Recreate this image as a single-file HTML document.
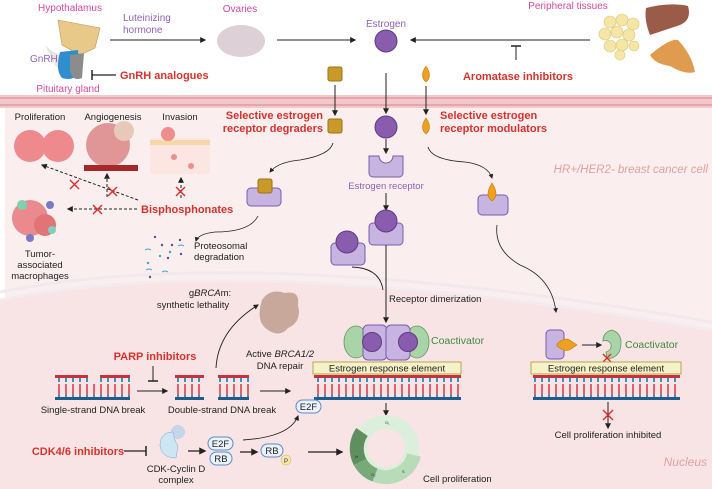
<!DOCTYPE html>
<html><head><meta charset="utf-8"><style>
body{margin:0;background:#fff}
svg{display:block;font-family:"Liberation Sans",sans-serif}
.r{fill:#d8322c;font-weight:bold;font-size:11px}
.k{fill:#222;font-size:9.5px}
.p{fill:#d548a0;font-size:10px}
.v{fill:#8e62b8;font-size:10px}
.g{fill:#3f8a3f;font-size:10.5px}
</style></head><body>
<svg width="712" height="489" viewBox="0 0 712 489" xmlns="http://www.w3.org/2000/svg">
<defs>
<marker id="a" viewBox="0 0 10 10" refX="8" refY="5" markerWidth="6" markerHeight="6" orient="auto"><path d="M0,0L10,5L0,10z" fill="#222"/></marker>
<pattern id="dna" x="0" y="0" width="7" height="24" patternUnits="userSpaceOnUse">
<rect x="2" y="0" width="2" height="11" fill="#e0616a"/><rect x="2" y="11" width="2" height="11" fill="#2e96c2"/></pattern>
</defs>
<!-- cell -->
<rect x="5" y="107" width="707" height="382" fill="#fbeeee"/>
<path d="M0,300 Q250,250 712,330 L712,489 L0,489z" fill="#f8e4e5"/>
<path d="M0,292 Q250,242 712,322" fill="none" stroke="#f0eaec" stroke-width="3"/>
<path d="M0,300 Q250,250 712,330" fill="none" stroke="#f2ecee" stroke-width="3"/>
<rect x="0" y="95" width="712" height="13" fill="#f2c8cb"/>
<rect x="0" y="97" width="712" height="2" fill="#e3a6ab"/>
<rect x="0" y="104" width="712" height="2" fill="#e3a6ab"/>

<!-- top -->
<text x="70" y="11" class="p" text-anchor="middle">Hypothalamus</text>
<path d="M58,20 L100,28 L95,48 L80,55 L62,45z" fill="#e9c98a" stroke="#b99a5a" stroke-width="0.6"/>
<path d="M45,45 Q60,60 70,52 L78,55 L75,65 Q60,72 55,65z" fill="#e5e5e8"/>
<path d="M60,52 Q55,70 62,78 Q75,82 80,70 L78,50z" fill="#2f8dd0"/>
<path d="M70,55 L84,53 L82,78 Q72,82 70,70z" fill="#8c8c8c"/>
<text x="30" y="62" class="v">GnRH</text>
<text x="68" y="92" class="p" text-anchor="middle">Pituitary gland</text>
<line x1="92" y1="75" x2="116" y2="75" stroke="#222" stroke-width="1.2"/><line x1="92" y1="70" x2="92" y2="80" stroke="#222" stroke-width="1.5"/>
<text x="120" y="79" class="r">GnRH analogues</text>
<text x="123" y="21" class="v">Luteinizing</text><text x="123" y="33" class="v">hormone</text>
<line x1="110" y1="40" x2="205" y2="40" stroke="#222" marker-end="url(#a)"/>
<text x="240" y="12" class="p" text-anchor="middle">Ovaries</text>
<ellipse cx="241" cy="41" rx="24" ry="16" fill="#ddd0d6"/>
<line x1="277" y1="40" x2="355" y2="40" stroke="#222" marker-end="url(#a)"/>
<text x="386" y="27" class="v" text-anchor="middle">Estrogen</text>
<circle cx="386" cy="41" r="11" fill="#8a5cad" stroke="#5e3b82"/>
<line x1="590" y1="40" x2="411" y2="40" stroke="#222" marker-end="url(#a)"/>
<line x1="516" y1="46" x2="516" y2="60" stroke="#222"/><line x1="511" y1="46" x2="521" y2="46" stroke="#222" stroke-width="1.5"/>
<text x="518" y="80" class="r" text-anchor="middle">Aromatase inhibitors</text>
<text x="568" y="9" class="p" text-anchor="middle">Peripheral tissues</text>
<g fill="#f5e6a6" stroke="#d9c67a" stroke-width="0.6">
<circle cx="610" cy="22" r="6"/><circle cx="622" cy="20" r="6"/><circle cx="633" cy="24" r="6"/><circle cx="605" cy="34" r="6"/><circle cx="617" cy="32" r="6"/><circle cx="629" cy="35" r="6"/><circle cx="610" cy="46" r="6"/><circle cx="622" cy="45" r="6"/><circle cx="634" cy="46" r="5"/><circle cx="620" cy="55" r="5"/></g>
<path d="M646,8 Q670,2 688,6 Q692,20 680,25 Q665,30 650,35 Q644,20 646,8z" fill="#9a5c48"/>
<path d="M650,55 Q670,38 678,40 Q692,55 695,72 Q685,75 670,66 Q655,64 650,55z" fill="#e09b4f"/>

<!-- SERD -->
<rect x="328" y="67" width="14" height="14" rx="2" fill="#c99a2a" stroke="#9a7418"/>
<line x1="335" y1="85" x2="335" y2="115" stroke="#222" marker-end="url(#a)"/>
<rect x="328" y="119" width="14" height="14" rx="2" fill="#c99a2a" stroke="#9a7418"/>
<text x="323" y="119" class="r" text-anchor="end">Selective estrogen</text>
<text x="323" y="132" class="r" text-anchor="end">receptor degraders</text>
<path d="M333,143 Q330,155 300,160 Q278,162 270,172" fill="none" stroke="#222" stroke-width="0.8" marker-end="url(#a)"/>
<rect x="247" y="188" width="34" height="18" rx="4" fill="#c8b4e0" stroke="#7b5ab0"/>
<rect x="258" y="179" width="14" height="14" rx="2" fill="#c99a2a" stroke="#9a7418"/>
<path d="M258,216 Q250,232 215,232 Q198,234 196,241" fill="none" stroke="#222" stroke-width="0.8" marker-end="url(#a)"/>
<g fill="#5a4a9a"><circle cx="155" cy="237" r="1.2"/><circle cx="162" cy="245" r="1.2"/><circle cx="172" cy="245" r="1.2"/><circle cx="180" cy="240" r="1.2"/><circle cx="168" cy="258" r="1.2"/><circle cx="150" cy="277" r="1.2"/><circle cx="181" cy="254" r="1.2"/></g>
<g fill="#3aa8b5"><circle cx="160" cy="256" r="1.2"/><circle cx="170" cy="252" r="1.2"/><circle cx="148" cy="263" r="1.2"/></g>
<g stroke="#3aa8d0" fill="none"><path d="M145,250 q3,-2 6,0"/><path d="M178,246 q3,-2 6,0"/><path d="M146,270 q3,-2 6,0"/><path d="M162,272 q3,-2 6,0"/></g>
<text x="194" y="249" class="k">Proteosomal</text><text x="194" y="260" class="k">degradation</text>

<!-- estrogen column -->
<line x1="386" y1="73" x2="386" y2="113" stroke="#222" marker-end="url(#a)"/>
<circle cx="386" cy="127" r="11" fill="#8a5cad" stroke="#5e3b82"/>
<line x1="386" y1="139" x2="386" y2="153" stroke="#222" marker-end="url(#a)"/>
<path d="M369,156 h10 a7,7 0 0 0 14,0 h10 v17 a4,4 0 0 1 -4,4 h-26 a4,4 0 0 1 -4,-4z" fill="#c8b4e0" stroke="#7b5ab0"/>
<text x="386" y="189" class="v" text-anchor="middle" style="font-size:9.5px">Estrogen receptor</text>
<line x1="386" y1="193" x2="386" y2="210" stroke="#222" marker-end="url(#a)"/>
<rect x="369" y="223" width="34" height="22" rx="4" fill="#c8b4e0" stroke="#7b5ab0"/>
<circle cx="386" cy="221" r="11" fill="#8a5cad" stroke="#5e3b82"/>
<rect x="331" y="243" width="34" height="22" rx="4" fill="#c8b4e0" stroke="#7b5ab0"/>
<circle cx="347" cy="242" r="11" fill="#8a5cad" stroke="#5e3b82"/>
<path d="M352,267 Q380,268 383,290" fill="none" stroke="#222" stroke-width="0.9"/>
<line x1="386" y1="245" x2="386" y2="322" stroke="#222" marker-end="url(#a)"/>
<text x="389" y="302" class="k">Receptor dimerization</text>

<!-- SERM -->
<path d="M426,66 Q433,76 426,82 Q419,76 426,66z" fill="#f0a020" stroke="#c07a10" stroke-width="0.6"/>
<line x1="426" y1="86" x2="426" y2="114" stroke="#222" marker-end="url(#a)"/>
<path d="M426,118 Q433,128 426,134 Q419,128 426,118z" fill="#f0a020" stroke="#c07a10" stroke-width="0.6"/>
<text x="440" y="119" class="r">Selective estrogen</text>
<text x="440" y="132" class="r">receptor modulators</text>
<path d="M428,147 Q432,160 465,162 Q488,165 492,178" fill="none" stroke="#222" stroke-width="0.8" marker-end="url(#a)"/>
<rect x="478" y="195" width="30" height="20" rx="4" fill="#c8b4e0" stroke="#7b5ab0"/>
<path d="M492,183 Q500,195 492,201 Q484,195 492,183z" fill="#f0a020" stroke="#c07a10" stroke-width="0.6"/>
<text x="708" y="173" text-anchor="end" style="fill:#e3a0a3;font-style:italic;font-size:11.5px">HR+/HER2- breast cancer cell</text>
<path d="M497,225 Q494,250 520,265 Q552,278 556,312" fill="none" stroke="#222" stroke-width="0.8" marker-end="url(#a)"/>

<!-- right complex -->
<rect x="546" y="330" width="18" height="29" rx="4" fill="#c8b4e0" stroke="#7b5ab0"/>
<path d="M557,344 Q565,336 571,341 L577,345 L571,349 Q565,353 557,346z" fill="#f0a020" stroke="#c07a10" stroke-width="0.6"/>
<line x1="582" y1="345" x2="601" y2="345" stroke="#222" marker-end="url(#a)"/>
<path d="M612,330 Q624,334 620,350 Q617,358 607,359 L606,352 Q612,350 611,344 Q608,339 603,341 Q603,332 612,330z" fill="#a9d4a8" stroke="#5a9a5a" stroke-width="0.8"/>
<text x="625" y="348" class="g">Coactivator</text>
<path d="M603,354 l8,8 M611,354 l-8,8" stroke="#e02a2a" stroke-width="1.4"/>
<rect x="531" y="362" width="150" height="12" fill="#f5f2c8" stroke="#b9a655"/>
<text x="606" y="371.5" class="k" text-anchor="middle">Estrogen response element</text>
<rect x="533" y="375" width="147" height="3" fill="#c8323a"/>
<rect x="533" y="378" width="147" height="19" fill="url(#dna)"/>
<rect x="533" y="397" width="147" height="3" fill="#1e5c8c"/>
<line x1="608" y1="402" x2="608" y2="428" stroke="#222" marker-end="url(#a)"/>
<path d="M603,410 l10,10 M613,410 l-10,10" stroke="#e02a2a" stroke-width="1.4"/>
<text x="608" y="438" class="k" text-anchor="middle">Cell proliferation inhibited</text>
<text x="707" y="466" text-anchor="end" style="fill:#e3a0a3;font-style:italic;font-size:12px">Nucleus</text>

<!-- center complex -->
<ellipse cx="356" cy="342" rx="12" ry="16" fill="#a9d4a8" stroke="#5a9a5a" stroke-width="0.8"/>
<ellipse cx="417" cy="342" rx="12" ry="16" fill="#a9d4a8" stroke="#5a9a5a" stroke-width="0.8"/>
<rect x="363" y="325" width="24" height="35" rx="5" fill="#c8b4e0" stroke="#7b5ab0"/>
<rect x="386" y="325" width="24" height="35" rx="5" fill="#c8b4e0" stroke="#7b5ab0"/>
<circle cx="372" cy="342" r="9.5" fill="#8a5cad" stroke="#5e3b82"/>
<circle cx="408" cy="342" r="9.5" fill="#8a5cad" stroke="#5e3b82"/>
<text x="431" y="344" class="g">Coactivator</text>
<rect x="313" y="362" width="148" height="12" fill="#f5f2c8" stroke="#b9a655"/>
<text x="387" y="371.5" class="k" text-anchor="middle">Estrogen response element</text>
<rect x="314" y="375" width="147" height="3" fill="#c8323a"/>
<rect x="314" y="378" width="147" height="19" fill="url(#dna)"/>
<rect x="314" y="397" width="147" height="3" fill="#1e5c8c"/>
<line x1="386" y1="403" x2="386" y2="415" stroke="#222" marker-end="url(#a)"/>
<circle cx="386" cy="448" r="26" fill="none" stroke="#dcefdc" stroke-width="14"/>
<path d="M414,455 A29,29 0 0 1 375,475" fill="none" stroke="#b8dbb8" stroke-width="14"/>
<path d="M375,475 A29,29 0 0 1 360,462" fill="none" stroke="#78aa78" stroke-width="14"/>
<path d="M360,462 A29,29 0 0 1 362,432" fill="none" stroke="#5f8f5f" stroke-width="14"/>
<text x="385" y="424" font-size="4" fill="#333">G₁</text>
<text x="402" y="473" font-size="4" fill="#333">S</text>
<text x="371" y="476" font-size="4" fill="#333">G₂</text>
<text x="355" y="458" font-size="4" fill="#333">M</text>
<line x1="308" y1="452" x2="342" y2="452" stroke="#222" stroke-width="1.2" marker-end="url(#a)"/>
<text x="423" y="482" class="k">Cell proliferation</text>

<!-- left top icons -->
<text x="40" y="120" class="k" text-anchor="middle">Proliferation</text>
<text x="113" y="120" class="k" text-anchor="middle">Angiogenesis</text>
<text x="180" y="120" class="k" text-anchor="middle">Invasion</text>
<ellipse cx="30" cy="146" rx="16" ry="16" fill="#ee8a8e"/><ellipse cx="58" cy="146" rx="16" ry="16" fill="#ee8a8e"/>
<rect x="30" y="141" width="28" height="10" fill="#ee8a8e"/>
<circle cx="108" cy="145" r="22" fill="#d98080" opacity="0.8"/>
<circle cx="124" cy="131" r="10" fill="#e8c8b8"/>
<rect x="84" y="165" width="54" height="6" fill="#a8282a"/>
<rect x="150" y="138" width="60" height="36" fill="#fbe6e2"/>
<rect x="150" y="140" width="60" height="5" fill="#f5d7a8"/>
<circle cx="168" cy="134" r="7" fill="#ef8c8e"/><circle cx="174" cy="157" r="3" fill="#ef8c8e"/><circle cx="191" cy="166" r="3" fill="#ef8c8e"/>
<circle cx="30" cy="218" r="18" fill="#eb8a8e"/><circle cx="45" cy="225" r="11" fill="#e27377"/><circle cx="22" cy="205" r="5" fill="#7fd0b0"/><circle cx="50" cy="205" r="4" fill="#7a78c8"/><circle cx="52" cy="230" r="4" fill="#7fd0c0"/><circle cx="30" cy="238" r="4" fill="#7a78c8"/>
<text x="40" y="257" class="k" text-anchor="middle">Tumor-</text>
<text x="40" y="268" class="k" text-anchor="middle">associated</text>
<text x="40" y="279" class="k" text-anchor="middle">macrophages</text>
<g stroke="#222" stroke-dasharray="3,2" fill="none">
<path d="M138,200 L42,165" marker-end="url(#a)"/>
<line x1="137" y1="209" x2="68" y2="209" marker-end="url(#a)"/>
<line x1="107" y1="197" x2="107" y2="174" marker-end="url(#a)"/>
<line x1="181" y1="198" x2="181" y2="178" marker-end="url(#a)"/>
</g>
<g stroke="#e02a2a" stroke-width="1.4">
<path d="M70,180 l9,9 M79,180 l-9,9"/><path d="M108,187 l9,9 M117,187 l-9,9"/><path d="M176,187 l9,9 M185,187 l-9,9"/><path d="M93,205 l9,9 M102,205 l-9,9"/></g>
<text x="141" y="213" class="r">Bisphosphonates</text>

<!-- nucleus left -->
<path d="M262,300 Q270,288 285,293 Q300,290 298,305 Q302,322 288,328 Q280,338 268,330 Q255,322 262,300z" fill="#c8a89a"/>
<text x="210" y="296" class="k" text-anchor="middle">g<tspan font-style="italic">BRCA</tspan>m:</text>
<text x="193" y="308" class="k" text-anchor="middle">synthetic lethality</text>
<path d="M216,368 Q218,330 258,305" fill="none" stroke="#222" stroke-width="0.9" marker-end="url(#a)"/>
<text x="155" y="360" class="r" text-anchor="middle">PARP inhibitors</text>
<line x1="153" y1="366" x2="153" y2="381" stroke="#222"/><line x1="148" y1="381" x2="158" y2="381" stroke="#222" stroke-width="1.5"/>
<rect x="55" y="375" width="75" height="3" fill="#c8323a"/>
<rect x="55" y="378" width="75" height="19" fill="url(#dna)"/>
<rect x="55" y="397" width="75" height="3" fill="#1e5c8c"/>
<rect x="88" y="372" width="12" height="12" fill="#f8e4e5"/>
<text x="93" y="413" class="k" text-anchor="middle">Single-strand DNA break</text>
<line x1="137" y1="391" x2="167" y2="391" stroke="#222" marker-end="url(#a)"/>
<rect x="175" y="375" width="74" height="3" fill="#c8323a"/>
<rect x="175" y="378" width="74" height="19" fill="url(#dna)"/>
<rect x="175" y="397" width="74" height="3" fill="#1e5c8c"/>
<rect x="204" y="372" width="14" height="32" fill="#f8e4e5"/>
<text x="222" y="413" class="k" text-anchor="middle">Double-strand DNA break</text>
<line x1="260" y1="391" x2="290" y2="391" stroke="#222" marker-end="url(#a)"/>
<text x="280" y="357" class="k" text-anchor="middle">Active <tspan font-style="italic">BRCA1/2</tspan></text>
<text x="280" y="369" class="k" text-anchor="middle">DNA repair</text>
<rect x="296" y="400" width="25" height="13" rx="6.5" fill="#eaf2fb" stroke="#5a8ad0"/>
<text x="308.5" y="410" class="k" text-anchor="middle">E2F</text>
<path d="M243,440 Q290,437 298,416" fill="none" stroke="#222" stroke-width="0.9" marker-end="url(#a)"/>
<text x="78" y="455" class="r" text-anchor="middle">CDK4/6 inhibitors</text>
<line x1="124" y1="451" x2="146" y2="451" stroke="#222" stroke-width="1.2"/><line x1="146" y1="446" x2="146" y2="456" stroke="#222" stroke-width="1.5"/>
<circle cx="178" cy="432" r="7" fill="#c8d4e8"/>
<path d="M173,432 Q160,432 160,446 Q162,458 176,458 L178,446 Q174,440 173,432z" fill="#cde6f2" stroke="#7aa8c8" stroke-width="0.5"/>
<text x="176" y="472" class="k" text-anchor="middle">CDK-Cyclin D</text>
<text x="176" y="483" class="k" text-anchor="middle">complex</text>
<line x1="188" y1="451" x2="205" y2="451" stroke="#222" stroke-width="1.2" marker-end="url(#a)"/>
<rect x="208" y="437" width="25" height="13" rx="6.5" fill="#eaf2fb" stroke="#5a8ad0"/>
<text x="220.5" y="447" class="k" text-anchor="middle">E2F</text>
<rect x="210" y="452" width="22" height="13" rx="6.5" fill="#eaf2fb" stroke="#5a8ad0"/>
<text x="221" y="462" class="k" text-anchor="middle">RB</text>
<line x1="240" y1="452" x2="257" y2="452" stroke="#222" stroke-width="1.2" marker-end="url(#a)"/>
<rect x="261" y="444" width="22" height="13" rx="6.5" fill="#eaf2fb" stroke="#5a8ad0"/>
<text x="272" y="454" class="k" text-anchor="middle">RB</text>
<circle cx="286" cy="460" r="5" fill="#f5e6a8" stroke="#c8b060" stroke-width="0.5"/>
<text x="286" y="463" font-size="6" text-anchor="middle" fill="#333">P</text>
</svg>
</body></html>
